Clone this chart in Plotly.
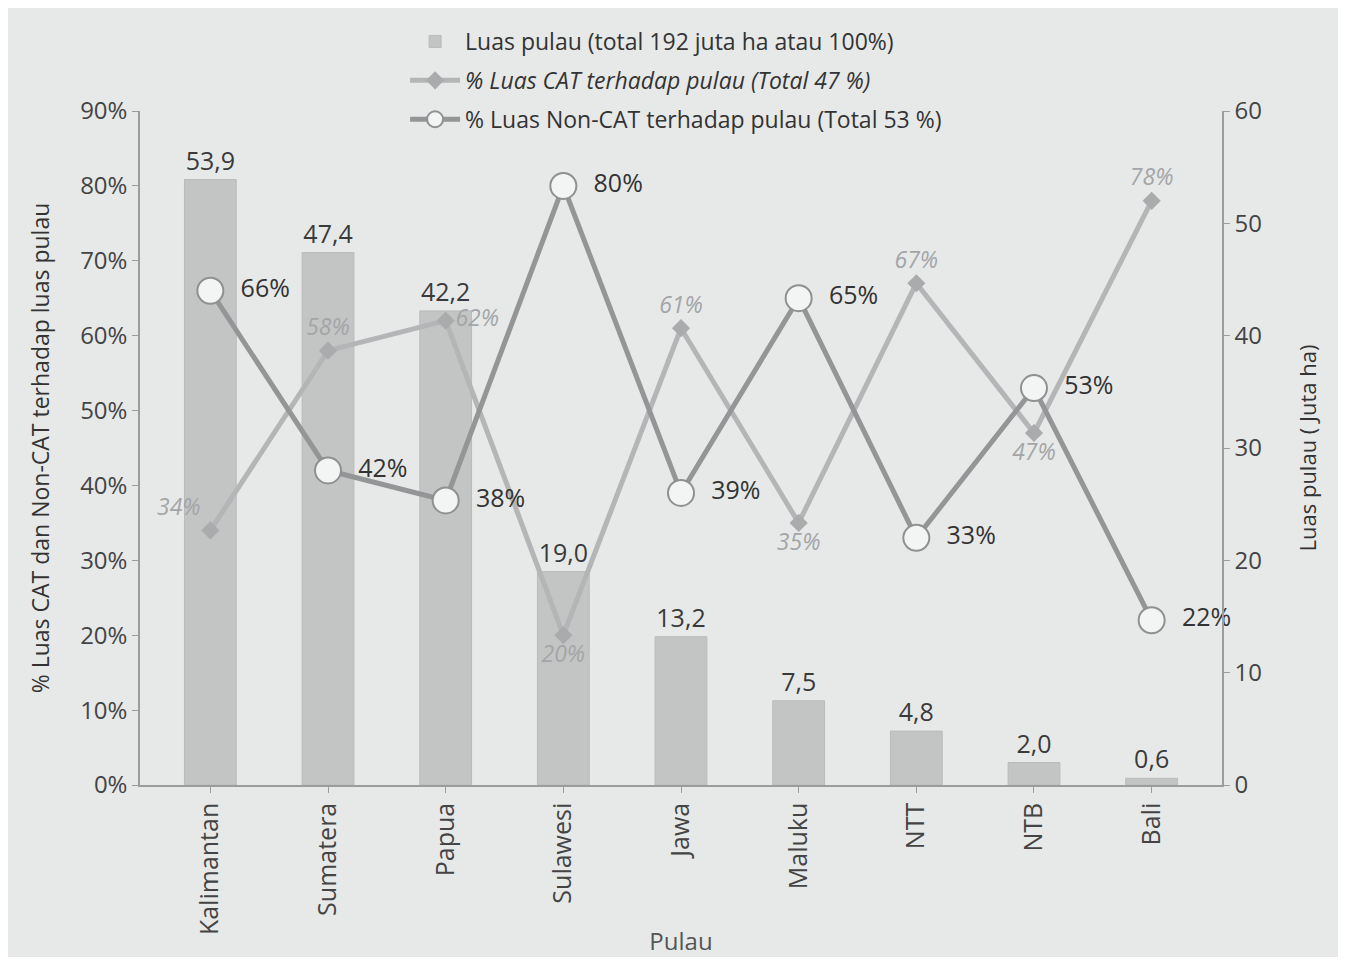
import plotly.graph_objects as go

pulau = ["Kalimantan", "Sumatera", "Papua", "Sulawesi", "Jawa", "Maluku", "NTT", "NTB", "Bali"]
luas_pulau = [53.9, 47.4, 42.2, 19.0, 13.2, 7.5, 4.8, 2.0, 0.6]
cat_pct = [34, 58, 62, 20, 61, 35, 67, 47, 78]
noncat_pct = [66, 42, 38, 80, 39, 65, 33, 53, 22]

cat_pos = ["top left", "top center", "middle right", "bottom center", "top center",
           "bottom center", "top center", "bottom center", "top center"]

FONT = "Open Sans"
bg = "#e7e9e9"

fig = go.Figure()
fig.add_trace(go.Bar(
    x=pulau, y=luas_pulau, yaxis="y",
    name="Luas pulau (total 192 juta ha atau 100%)", legendgroup="a",
    marker=dict(color="#c3c5c5", line=dict(color="#b9bbbb", width=1)),
    width=0.44,
    text=[f"{v:.1f}".replace(".", ",") for v in luas_pulau],
    textposition="outside", cliponaxis=False,
    textfont=dict(size=25, color="#3a3a3a", family=FONT),
))
fig.add_trace(go.Scatter(
    x=pulau, y=[v / 100 for v in cat_pct], yaxis="y2",
    name="<i>% Luas CAT terhadap pulau (Total 47 %)</i>", legendgroup="b",
    mode="lines+markers+text",
    line=dict(color="#b3b5b6", width=5),
    marker=dict(symbol="diamond", size=14, color="#a9abac"),
    text=[f"{v}%" for v in cat_pct], textposition=cat_pos,
    textfont=dict(size=23, color="#a3a5a7", family=FONT, style="italic"),
    cliponaxis=False,
))
fig.add_trace(go.Scatter(
    x=pulau, y=[v / 100 for v in noncat_pct], yaxis="y2",
    name="% Luas Non-CAT terhadap pulau (Total 53 %)", legendgroup="c",
    mode="lines+markers+text",
    line=dict(color="#939596", width=5),
    marker=dict(symbol="circle", size=26, color="#f3f4f4", line=dict(color="#8e9091", width=2)),
    text=[f"&nbsp;&nbsp;{v}%" for v in noncat_pct], textposition="middle right",
    textfont=dict(size=25, color="#333333", family=FONT),
    cliponaxis=False,
))

fig.update_layout(
    width=1330, height=949,
    paper_bgcolor=bg, plot_bgcolor=bg,
    margin=dict(l=132, r=116, t=100, b=172),
    font=dict(family=FONT, color="#444444", size=22),
    showlegend=True,
    legend=dict(x=0.245, y=1.135, xanchor="left", yanchor="top",
                bgcolor="rgba(0,0,0,0)", font=dict(size=23, color="#333333"),
                tracegroupgap=6, itemwidth=50),
    bargap=0.5,
    xaxis=dict(
        title=dict(text="Pulau", font=dict(size=24, color="#555555"), standoff=4),
        tickangle=-90, tickfont=dict(size=25, color="#444444"),
        showline=True, linecolor="#9a9c9d", linewidth=1.5,
        ticks="outside", tickcolor="#9a9c9d", ticklen=6,
        showgrid=False, automargin=False,
    ),
    yaxis=dict(
        side="right", range=[0, 60], dtick=10,
        title=dict(text="Luas pulau ( Juta ha)", font=dict(size=22, color="#333333"), standoff=40),
        showline=True, linecolor="#9a9c9d", linewidth=1.5,
        ticks="outside", tickcolor="#9a9c9d", ticklen=6,
        tickfont=dict(size=24, color="#444444"),
        showgrid=False, zeroline=False, automargin=False,
    ),
    yaxis2=dict(
        side="left", overlaying="y", range=[0, 0.9], dtick=0.1, tickformat=".0%",
        title=dict(text="% Luas CAT dan Non-CAT terhadap luas pulau", font=dict(size=23, color="#333333"), standoff=24),
        showline=True, linecolor="#9a9c9d", linewidth=1.5,
        ticks="outside", tickcolor="#9a9c9d", ticklen=6,
        tickfont=dict(size=24, color="#444444"),
        showgrid=False, zeroline=False, automargin=False,
    ),
)

fig.write_html("out.html")
